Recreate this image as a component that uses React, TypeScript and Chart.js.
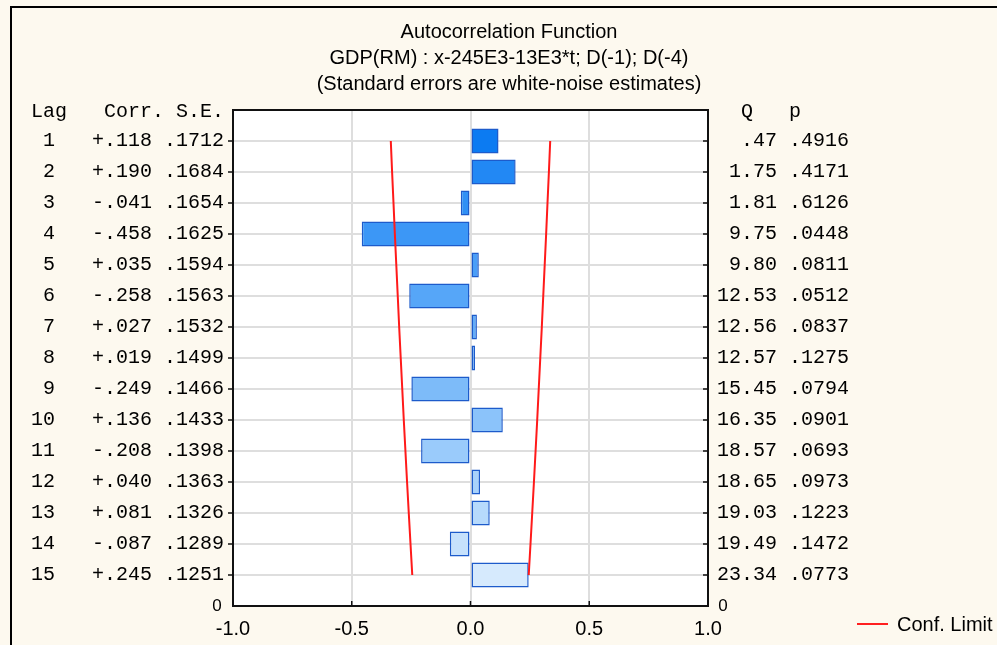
import React, { useEffect, useRef } from "react";
import { Chart, registerables } from "chart.js";

Chart.register(...registerables);

const titleLines = [
  "Autocorrelation Function",
  "GDP(RM) : x-245E3-13E3*t; D(-1); D(-4)",
  "(Standard errors are white-noise estimates)",
];
const lags = [1, 2, 3, 4, 5, 6, 7, 8, 9, 10, 11, 12, 13, 14, 15];
const corr = [0.118, 0.19, -0.041, -0.458, 0.035, -0.258, 0.027, 0.019, -0.249, 0.136, -0.208, 0.04, 0.081, -0.087, 0.245];
const stdErr = [0.1712, 0.1684, 0.1654, 0.1625, 0.1594, 0.1563, 0.1532, 0.1499, 0.1466, 0.1433, 0.1398, 0.1363, 0.1326, 0.1289, 0.1251];
const qStat = [0.47, 1.75, 1.81, 9.75, 9.8, 12.53, 12.56, 12.57, 15.45, 16.35, 18.57, 18.65, 19.03, 19.49, 23.34];
const pValue = [0.4916, 0.4171, 0.6126, 0.0448, 0.0811, 0.0512, 0.0837, 0.1275, 0.0794, 0.0901, 0.0693, 0.0973, 0.1223, 0.1472, 0.0773];
const confLimit = [0.3356, 0.3301, 0.3242, 0.3185, 0.3124, 0.3063, 0.3003, 0.2938, 0.2873, 0.2809, 0.274, 0.2671, 0.2599, 0.2526, 0.2452];
const xTickValues = [-1, -0.5, 0, 0.5, 1];
const legendLabel = "Conf. Limit";

const barColors = [
  "#0C7BF2", "#2288F4", "#3090F5", "#3C97F6", "#4A9EF7",
  "#56A6F8", "#63ADF8", "#6FB4F9", "#7DBBF9", "#8BC3FA",
  "#9ACBFB", "#A8D2FB", "#B7DAFC", "#C6E1FC", "#D6EAFD",
];

const SANS = '"Liberation Sans", Arial, sans-serif';
const MONO = '"Liberation Mono", "Courier New", monospace';

const fmtCorr = (c: number) => (c >= 0 ? "+" : "-") + Math.abs(c).toFixed(3).slice(1);
const fmtFrac = (v: number) => v.toFixed(4).slice(1);
const fmtQ = (q: number) => (q < 1 ? q.toFixed(2).slice(1) : q.toFixed(2));

const decorPlugin = {
  id: "decor",
  beforeDraw(chart: any) {
    const ctx = chart.ctx;
    const a = chart.chartArea;
    ctx.save();
    ctx.fillStyle = "#FDF9EF";
    ctx.fillRect(0, 0, chart.width, chart.height);
    ctx.fillStyle = "#FFFFFF";
    ctx.fillRect(a.left, a.top, a.right - a.left, a.bottom - a.top);
    ctx.strokeStyle = "#000";
    ctx.lineWidth = 2;
    ctx.beginPath();
    ctx.moveTo(11, chart.height);
    ctx.lineTo(11, 7);
    ctx.lineTo(chart.width, 7);
    ctx.stroke();
    ctx.restore();
  },
  afterDraw(chart: any) {
    const ctx = chart.ctx;
    const a = chart.chartArea;
    const xs = chart.scales.x;
    const ys = chart.scales.y;
    ctx.save();
    // plot frame
    ctx.strokeStyle = "#111";
    ctx.lineWidth = 2;
    ctx.strokeRect(a.left, a.top, a.right - a.left, a.bottom - a.top);
    // tick marks
    ctx.beginPath();
    lags.forEach((l) => {
      const y = ys.getPixelForValue(l);
      ctx.moveTo(a.left - 5, y);
      ctx.lineTo(a.left, y);
      ctx.moveTo(a.right - 5, y);
      ctx.lineTo(a.right, y);
    });
    xTickValues.forEach((v) => {
      const x = xs.getPixelForValue(v);
      ctx.moveTo(x, a.bottom - 5);
      ctx.lineTo(x, a.bottom);
    });
    ctx.lineWidth = 1.5;
    ctx.stroke();

    // title
    ctx.fillStyle = "#000";
    ctx.font = `20px ${SANS}`;
    ctx.textAlign = "center";
    ctx.textBaseline = "alphabetic";
    const baselines = [38, 64, 90];
    titleLines.forEach((t, i) => ctx.fillText(t, 509, baselines[i]));

    // x tick labels
    xTickValues.forEach((v) => {
      ctx.fillText(v.toFixed(1), xs.getPixelForValue(v), 635);
    });
    // zero labels
    ctx.font = `17px ${SANS}`;
    ctx.textBaseline = "middle";
    ctx.fillText("0", 217, a.bottom);
    ctx.fillText("0", 723, a.bottom);

    // tables
    ctx.font = `20px ${MONO}`;
    ctx.textBaseline = "middle";
    const headY = 112;
    ctx.textAlign = "left";
    ctx.fillText("Lag", 31, headY);
    ctx.fillText("Q   p", 741, headY);
    ctx.textAlign = "right";
    ctx.fillText("Corr. S.E.", 224, headY);
    lags.forEach((l, i) => {
      const y = ys.getPixelForValue(l);
      ctx.textAlign = "right";
      ctx.fillText(String(l), 55, y);
      ctx.fillText(`${fmtCorr(corr[i])} ${fmtFrac(stdErr[i])}`, 224, y);
      ctx.fillText(`${fmtQ(qStat[i])} ${fmtFrac(pValue[i])}`, 849, y);
    });

    // legend
    ctx.strokeStyle = "#FF2020";
    ctx.lineWidth = 2;
    ctx.beginPath();
    ctx.moveTo(857, 624);
    ctx.lineTo(888, 624);
    ctx.stroke();
    ctx.font = `20px ${SANS}`;
    ctx.textAlign = "left";
    ctx.textBaseline = "alphabetic";
    ctx.fillText(legendLabel, 897, 631);
    ctx.restore();
  },
};

export default function App() {
  const ref = useRef<HTMLCanvasElement | null>(null);
  useEffect(() => {
    if (!ref.current) return;
    const chart = new Chart(ref.current, {
      type: "bar",
      data: {
        datasets: [
          {
            type: "line",
            label: legendLabel,
            data: lags.map((l, i) => ({ x: -confLimit[i], y: l })),
            borderColor: "#FF1A1A",
            borderWidth: 2,
            pointRadius: 0,
            fill: false,
            xAxisID: "x",
            yAxisID: "y",
            order: 0,
          } as any,
          {
            type: "line",
            label: legendLabel + " ",
            data: lags.map((l, i) => ({ x: confLimit[i], y: l })),
            borderColor: "#FF1A1A",
            borderWidth: 2,
            pointRadius: 0,
            fill: false,
            xAxisID: "x",
            yAxisID: "y",
            order: 0,
          } as any,
          {
            type: "bar",
            label: "Corr.",
            data: lags.map((l, i) => ({ x: corr[i], y: l })),
            backgroundColor: barColors,
            borderColor: "#1D5BCB",
            borderWidth: 1.5,
            borderSkipped: false,
            barPercentage: 0.81,
            categoryPercentage: 1,
            xAxisID: "x",
            yAxisID: "y",
            order: 1,
          } as any,
        ],
      },
      options: {
        indexAxis: "y",
        animation: false,
        responsive: false,
        devicePixelRatio: 1,
        layout: { padding: { top: 110, left: 0, right: 0, bottom: 0 } },
        plugins: { legend: { display: false }, title: { display: false }, tooltip: { enabled: false } },
        scales: {
          x: {
            type: "linear",
            position: "bottom",
            min: -1,
            max: 1,
            offset: false,
            ticks: { display: false, stepSize: 0.5 },
            grid: { color: "#DEDEDE", lineWidth: 2, drawTicks: false, offset: false },
            border: { display: false },
            afterFit: (s: any) => { s.height = 39; },
          },
          y: {
            type: "linear",
            position: "left",
            reverse: true,
            min: 0,
            max: 16,
            offset: false,
            ticks: { display: false, stepSize: 1 },
            grid: { color: "#DEDEDE", lineWidth: 2, drawTicks: false, offset: false },
            border: { display: false },
            afterFit: (s: any) => { s.width = 233; },
          },
          y2: {
            type: "linear",
            position: "right",
            reverse: true,
            min: 0,
            max: 16,
            offset: false,
            ticks: { display: false, stepSize: 1 },
            grid: { display: false, drawTicks: false, offset: false },
            border: { display: false },
            afterFit: (s: any) => { s.width = 289; },
          },
        } as any,
      },
      plugins: [decorPlugin],
    });
    return () => chart.destroy();
  }, []);
  return (
    <div style={{ position: "fixed", left: 0, top: 0, width: 997, height: 645 }}>
      <canvas ref={ref} width={997} height={645} style={{ display: "block" }} />
    </div>
  );
}
